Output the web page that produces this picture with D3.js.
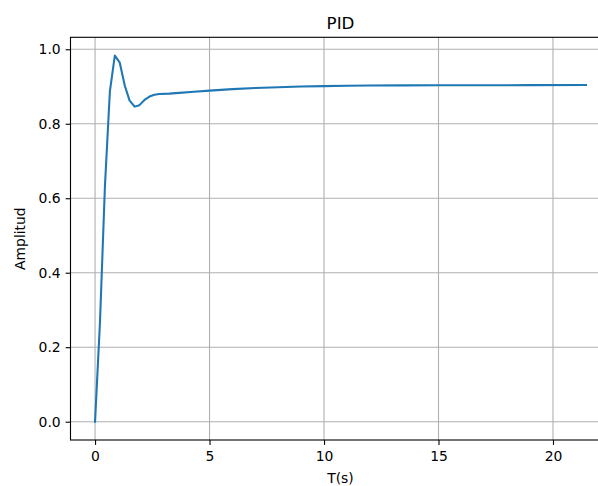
<!DOCTYPE html>
<html>
<head>
<meta charset="utf-8">
<script src="https://cdn.jsdelivr.net/npm/d3@7"></script>
<style>
  html, body { margin: 0; padding: 0; background: #fff; overflow: hidden; }
  svg { display: block; }
  text { font-family: "DejaVu Sans", sans-serif; fill: #000; }
</style>
</head>
<body>
<svg id="chart" width="598" height="486"></svg>
<script>
// Step response of the PID-controlled loop
const timeS = [0, 0.216, 0.432, 0.648, 0.864, 1.08, 1.30, 1.51, 1.73, 1.94, 2.16, 2.38, 2.59, 2.81,
               3.24, 3.67, 4.32, 5.0, 6.0, 7.0, 8.0, 9.0, 10.0, 11.0, 12.0, 13.5, 15.0, 17.0, 19.0, 21.44];
const amplitude = [0, 0.268, 0.633, 0.887, 0.983, 0.964, 0.902, 0.862, 0.846, 0.850, 0.864, 0.873, 0.878, 0.880,
                   0.881, 0.883, 0.886, 0.889, 0.893, 0.896, 0.898, 0.900, 0.901, 0.902, 0.9025, 0.903, 0.9033, 0.9035, 0.9037, 0.904];
const xTicks = [0, 5, 10, 15, 20];
const yTicks = [0.0, 0.2, 0.4, 0.6, 0.8, 1.0];

const titleText = "PID";
const xLabel = "T(s)";
const yLabel = "Amplitud";

const svg = d3.select("#chart");

// Axes box (extends past the right edge of the page)
const boxL = 70.5, boxR = 610.5, boxT = 37.3, boxB = 440;

// 5% data margins, as in a default plot
const xMax = d3.max(timeS), xMin = d3.min(timeS);
const xPad = (xMax - xMin) * 0.05;
const yMax = d3.max(amplitude), yMin = d3.min(amplitude);
const yPad = (yMax - yMin) * 0.05;

const x = d3.scaleLinear().domain([xMin - xPad, xMax + xPad]).range([boxL, boxR]);
const y = d3.scaleLinear().domain([yMin - yPad, yMax + yPad]).range([boxB, boxT]);

const g = svg.append("g");

// Grid
g.append("g").selectAll("line").data(xTicks).join("line")
  .attr("x1", d => x(d)).attr("x2", d => x(d))
  .attr("y1", boxT).attr("y2", boxB)
  .attr("stroke", "#b0b0b0").attr("stroke-width", 1.1);
g.append("g").selectAll("line").data(yTicks).join("line")
  .attr("x1", boxL).attr("x2", boxR)
  .attr("y1", d => y(d)).attr("y2", d => y(d))
  .attr("stroke", "#b0b0b0").attr("stroke-width", 1.1);

// Response curve
g.append("path")
  .datum(timeS.map((t, i) => [t, amplitude[i]]))
  .attr("fill", "none")
  .attr("stroke", "#1f77b4")
  .attr("stroke-width", 2.08)
  .attr("stroke-linejoin", "round")
  .attr("stroke-linecap", "square")
  .attr("d", d3.line().x(d => x(d[0])).y(d => y(d[1])));

// Axes
const xAxis = d3.axisBottom(x).tickValues(xTicks).tickFormat(d3.format("d"))
  .tickSizeInner(4.9).tickSizeOuter(0).tickPadding(6.5);
const yAxis = d3.axisLeft(y).tickValues(yTicks).tickFormat(d3.format(".1f"))
  .tickSizeInner(4.9).tickSizeOuter(0).tickPadding(4.9);

const gx = g.append("g").attr("transform", `translate(0,${boxB})`).call(xAxis);
const gy = g.append("g").attr("transform", `translate(${boxL},0)`).call(yAxis);
[gx, gy].forEach(a => {
  a.select(".domain").remove();
  a.selectAll(".tick line").attr("stroke", "#000").attr("stroke-width", 1.1);
  a.selectAll(".tick text").attr("font-family", "DejaVu Sans, sans-serif")
    .attr("font-size", "13.9px").attr("fill", "#000");
});

// Spines
g.append("rect")
  .attr("x", boxL).attr("y", boxT)
  .attr("width", boxR - boxL).attr("height", boxB - boxT)
  .attr("fill", "none").attr("stroke", "#000").attr("stroke-width", 1.1);

// Labels
svg.append("text")
  .attr("x", (boxL + boxR) / 2).attr("y", boxT - 8.5)
  .attr("text-anchor", "middle").attr("font-size", "16.7px")
  .text(titleText);

svg.append("text")
  .attr("x", (boxL + boxR) / 2).attr("y", 483)
  .attr("text-anchor", "middle").attr("font-size", "13.9px")
  .text(xLabel);

svg.append("text")
  .attr("transform", `translate(25,${(boxT + boxB) / 2}) rotate(-90)`)
  .attr("text-anchor", "middle").attr("font-size", "13.9px")
  .text(yLabel);
</script>
</body>
</html>
